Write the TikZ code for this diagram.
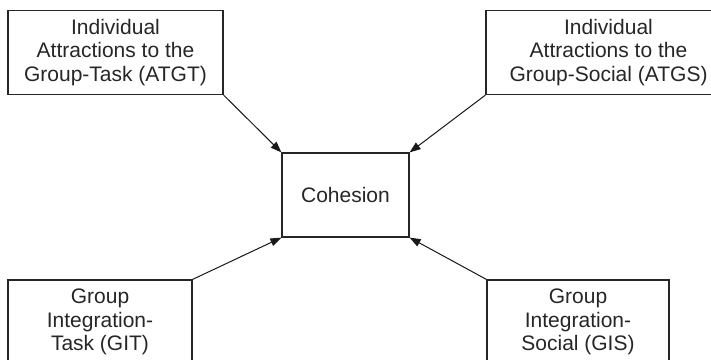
\documentclass[tikz,border=0pt]{standalone}
\usepackage{fontspec}
\setmainfont{Liberation Sans}
\usetikzlibrary{arrows.meta}
\begin{document}
\begin{tikzpicture}[x=1pt,y=-1pt,
  box/.style={draw=black!85, line width=1.2pt, inner sep=0pt, align=center,
    font=\fontsize{21}{23.5}\selectfont, text=black!85},
  link/.style={draw=black!90, line width=1pt, -{Triangle[length=11pt,width=8pt]}}]
  \useasboundingbox (0,0) rectangle (711,359);
  % factor boxes
  \node[box, minimum width=215pt, minimum height=84pt] (atgt) at (115.5,52.5)
    {Individual\\Attractions to the\\Group-Task (ATGT)};
  \node[box, minimum width=245pt, minimum height=84pt] (atgs) at (608.5,52.5)
    {Individual\\Attractions to the\\Group-Social (ATGS)};
  \node[box, minimum width=184pt, minimum height=84pt] (git) at (100,322)
    {Group\\Integration-\\Task (GIT)};
  \node[box, minimum width=182pt, minimum height=84pt] (gis) at (578,322)
    {Group\\Integration-\\Social (GIS)};
  % central construct
  \node[box, minimum width=127pt, minimum height=84pt] (coh) at (345.5,195)
    {Cohesion};
  % connectors
  \draw[link] (atgt.south east) -- (coh.north west);
  \draw[link] (atgs.south west) -- (coh.north east);
  \draw[link] (git.north east) -- (coh.south west);
  \draw[link] (gis.north west) -- (coh.south east);
\end{tikzpicture}
\end{document}
